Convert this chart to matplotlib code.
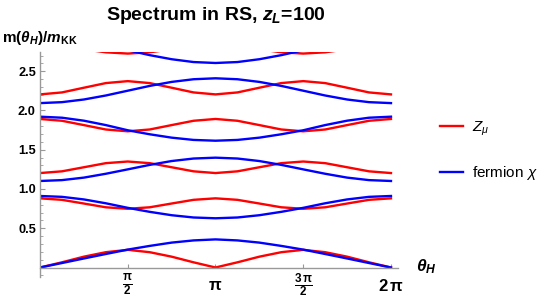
import numpy as np
import matplotlib
matplotlib.use("Agg")
import matplotlib.pyplot as plt
from matplotlib.lines import Line2D
from matplotlib.ticker import MultipleLocator

plt.rcParams['font.family'] = ['Liberation Sans', 'DejaVu Sans']
plt.rcParams['mathtext.fontset'] = 'custom'
plt.rcParams['mathtext.rm'] = 'Liberation Sans'
plt.rcParams['mathtext.it'] = 'Liberation Sans:italic'
plt.rcParams['mathtext.bf'] = 'Liberation Sans:bold'
plt.rcParams['mathtext.bfit'] = 'Liberation Sans:bold:italic'

# theta_H in units of pi (sampled every pi/8)
theta_over_pi = [0, 0.125, 0.25, 0.375, 0.5, 0.625, 0.75, 0.875, 1.0,
                 1.125, 1.25, 1.375, 1.5, 1.625, 1.75, 1.875, 2.0]

# Z_mu levels
z1 = [0, 0.066, 0.138, 0.195, 0.225, 0.195, 0.138, 0.066, 0,
      0.066, 0.138, 0.195, 0.225, 0.195, 0.138, 0.066, 0]
z2 = [0.881, 0.862, 0.815, 0.767, 0.748, 0.767, 0.815, 0.862, 0.881,
      0.862, 0.815, 0.767, 0.748, 0.767, 0.815, 0.862, 0.881]
z3 = [1.203, 1.225, 1.277, 1.329, 1.350, 1.329, 1.277, 1.225, 1.203,
      1.225, 1.277, 1.329, 1.350, 1.329, 1.277, 1.225, 1.203]
z4 = [1.892, 1.869, 1.814, 1.758, 1.735, 1.758, 1.814, 1.869, 1.892,
      1.869, 1.814, 1.758, 1.735, 1.758, 1.814, 1.869, 1.892]
z5 = [2.205, 2.230, 2.290, 2.349, 2.374, 2.349, 2.290, 2.230, 2.205,
      2.230, 2.290, 2.349, 2.374, 2.349, 2.290, 2.230, 2.205]
z6 = [2.835, 2.819, 2.780, 2.741, 2.725, 2.741, 2.780, 2.819, 2.835,
      2.819, 2.780, 2.741, 2.725, 2.741, 2.780, 2.819, 2.835]

# fermion chi levels
f1 = [0, 0.057, 0.115, 0.172, 0.228, 0.275, 0.317, 0.345, 0.358,
      0.345, 0.317, 0.275, 0.228, 0.172, 0.115, 0.057, 0]
f2 = [0.911, 0.900, 0.867, 0.818, 0.760, 0.709, 0.666, 0.637, 0.627,
      0.637, 0.666, 0.709, 0.760, 0.818, 0.867, 0.900, 0.911]
f3 = [1.102, 1.113, 1.145, 1.194, 1.250, 1.307, 1.356, 1.388, 1.399,
      1.388, 1.356, 1.307, 1.250, 1.194, 1.145, 1.113, 1.102]
f4 = [1.921, 1.908, 1.870, 1.814, 1.748, 1.697, 1.654, 1.625, 1.615,
      1.625, 1.654, 1.697, 1.748, 1.814, 1.870, 1.908, 1.921]
f5 = [2.094, 2.106, 2.140, 2.191, 2.252, 2.313, 2.364, 2.398, 2.410,
      2.398, 2.364, 2.313, 2.252, 2.191, 2.140, 2.106, 2.094]
f6 = [2.930, 2.918, 2.882, 2.830, 2.768, 2.705, 2.653, 2.617, 2.605,
      2.617, 2.653, 2.705, 2.768, 2.830, 2.882, 2.918, 2.930]

xtick_pos = [0.5, 1.0, 1.5, 2.0]
xtick_labels = [r'$\frac{\mathbf{\pi}}{\mathbf{2}}$', r'$\mathbf{\pi}$',
                r'$\frac{\mathbf{3\,\pi}}{\mathbf{2}}$', r'$\mathbf{2\,\pi}$']
ytick_pos = [0.5, 1.0, 1.5, 2.0, 2.5]
ytick_labels = ['0.5', '1.0', '1.5', '2.0', '2.5']

theta = np.pi * np.array(theta_over_pi)

fig = plt.figure(figsize=(5.45, 3.03), dpi=100)
ax = fig.add_axes([40 / 545, 1 - 277 / 303, 358 / 545, 225 / 303])

for z in [z1, z2, z3, z4, z5, z6]:
    ax.plot(theta, z, color='red', lw=1.7)
for f in [f1, f2, f3, f4, f5, f6]:
    ax.plot(theta, f, color='blue', lw=1.7)

ax.set_xlim(0, 2.04 * np.pi)
ax.set_ylim(-0.121, 2.745)

axis_gray = '0.6'
for s in ['top', 'right']:
    ax.spines[s].set_visible(False)
ax.spines['left'].set_position(('data', 0))
ax.spines['bottom'].set_position(('data', 0))
for s in ['left', 'bottom']:
    ax.spines[s].set_color(axis_gray)
    ax.spines[s].set_linewidth(1.0)

ax.set_xticks(np.pi * np.array(xtick_pos))
ax.set_xticklabels(xtick_labels)
ax.set_yticks(ytick_pos)
ax.set_yticklabels(ytick_labels)
ax.yaxis.set_minor_locator(MultipleLocator(0.1))
ax.tick_params(axis='x', direction='in', length=3, color=axis_gray,
               labelsize=12, pad=13)
ax.tick_params(axis='y', which='major', direction='in', length=3.5,
               color=axis_gray, labelsize=9.2, pad=3)
ax.tick_params(axis='y', which='minor', direction='in', length=2,
               color=axis_gray)
for lab in ax.get_xticklabels():
    lab.set_va('center')
for lab in ax.get_yticklabels():
    lab.set_fontweight('bold')

fig.text(216 / 545, 1 - 20 / 303, r'Spectrum in RS, $\boldsymbol{z}_{\boldsymbol{L}}$=100',
         ha='center', va='baseline', fontsize=14, fontweight='bold')
fig.text(2 / 545, 1 - 38 / 303,
         r'$\mathbf{m(}\boldsymbol{\theta}_{\boldsymbol{H}}\mathbf{)/}\boldsymbol{m}_{\mathbf{KK}}$',
         ha='left', va='center', fontsize=11)
fig.text(416 / 545, 1 - 267 / 303, r'$\boldsymbol{\theta}_{\boldsymbol{H}}$',
         ha='left', va='center', fontsize=12.5)

handles = [Line2D([], [], color='red', lw=1.7), Line2D([], [], color='blue', lw=1.7)]
fig.legend(handles, [r'$Z_\mu$', r'fermion $\chi$'], loc='center left',
           bbox_to_anchor=(440 / 545, 1 - 151 / 303), frameon=False,
           fontsize=11, handlelength=1.5, handletextpad=0.6,
           labelspacing=1.7, borderpad=0, borderaxespad=0)

fig.savefig('out.png', dpi=100)
